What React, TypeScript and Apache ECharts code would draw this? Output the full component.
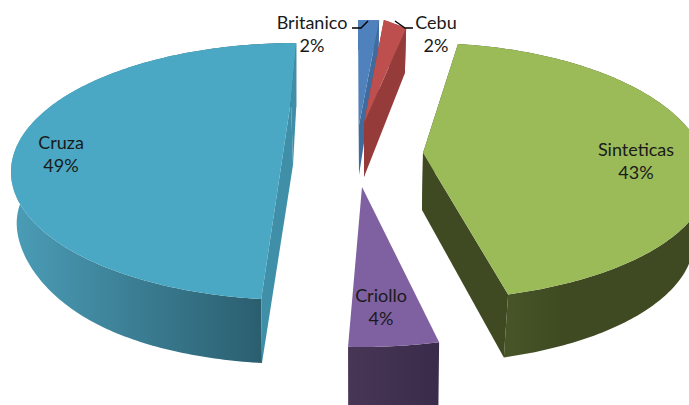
import React, { useEffect, useRef } from "react";
import * as echarts from "echarts";

const categories = ["Britanico", "Cebu", "Sinteticas", "Criollo", "Cruza"];
const shares = [2, 2, 43, 4, 49];
const percentLabels = ["2%", "2%", "43%", "4%", "49%"];

// Projection of each exploded slice (an imitation of the 3-D perspective of the original)
const layouts: any[] = [
  { ax: 359, ay: 125, adx: 0, ad: 50, ox: 358, cy: 150, rx: 285, ryB: 130, ryF: 130, tilt: 0, phi0: 0, scale: 0.59, depth: 30, shrink: 0.97, taper: 0, cuts: true,
    face: "#4f81bd", cut: "#3f6b9e", wall: "#3f6b9e", lx: 312, ly: 22 },
  { ax: 364, ay: 123, adx: 0, ad: 54, ox: 364, cy: 143, rx: 285, ryB: 130, ryF: 130, tilt: 0.33, phi0: 4, scale: 0.625, depth: 45, shrink: 0.97, taper: 0, cuts: true,
    face: "#bd504e", cut: "#953c3a", wall: "#953c3a", lx: 436, ly: 22 },
  { ax: 423, ay: 153, adx: -1, ad: 57, ox: 423, cy: 178, rx: 285, ryB: 135, ryF: 122, tilt: 0, phi0: 7.05, scale: 1.005, depth: 63, shrink: 0.95, taper: 0, cuts: true,
    face: "#9bbb59", cut: "#3f4a22", wall: [[0.22, "#465427"], [0.42, "#3f4a22"], [1, "#3f4a22"]], lx: 636, ly: 149 },
  { ax: 362, ay: 187, adx: 0, ad: 60, ox: 362, cy: 217, rx: 285, ryB: 130, ryF: 130, tilt: 0, phi0: 164.3, scale: 1.285, depth: 68, shrink: 0.99, taper: 0, cuts: false,
    face: "#7f60a0", cut: "#463554", wall: [[0, "#483656"], [1, "#3a2b4b"]], lx: 381, ly: 295 },
  { ax: 291, ay: 100, adx: 2, ad: 65, ox: 296, cy: 172, rx: 285, ryB: 129, ryF: 128, tilt: 0, phi0: 187, scale: 0.981, depth: 64, shrink: 0.98, taper: 0.2, cuts: true,
    face: "#4aa8c4", cut: "#3f8fa8", wall: [[0, "#4b9db7"], [0.87, "#2b5f70"], [1, "#2b5f70"]], lx: 61, ly: 142 },
];

const leaderBritanico = [[352, 28], [361, 28], [368, 21]];
const leaderCebu = [[395, 21], [405, 28], [413, 28]];

const total = shares.reduce((a, b) => a + b, 0);

function arc(l: any, sweep: number, deep: boolean) {
  const pts: number[][] = [];
  const steps = Math.max(4, Math.ceil(sweep * l.scale));
  for (let i = 0; i <= steps; i++) {
    const phi = ((l.phi0 + (sweep * l.scale * i) / steps) * Math.PI) / 180;
    const c = Math.cos(phi);
    const s = Math.sin(phi);
    const dx = l.rx * s;
    const y = l.cy - (c > 0 ? l.ryB : l.ryF) * c + l.tilt * dx;
    const d = l.depth * (1 - l.taper * Math.pow(s, 6));
    pts.push(deep ? [l.ox + dx * l.shrink, y + d] : [l.ox + dx, y]);
  }
  return pts;
}

function wallFill(w: any) {
  if (typeof w === "string") return w;
  return new echarts.graphic.LinearGradient(
    0, 0, 1, 0,
    w.map((s: any) => ({ offset: s[0], color: s[1] }))
  );
}

function renderItem(params: any, api: any) {
  const i = params.dataIndex;
  const l = layouts[i];
  const sweep = (api.value(0) / total) * 360;
  const top = arc(l, sweep, false);
  const bot = arc(l, sweep, true);
  const apex = [l.ax, l.ay];
  const apexLow = [l.ax + l.adx, l.ay + l.ad];
  const poly = (points: number[][], fill: any) => ({
    type: "polygon",
    shape: { points },
    style: { fill, stroke: null },
  });
  const children: any[] = [poly([...top, ...bot.slice().reverse()], wallFill(l.wall))];
  if (l.cuts) {
    children.push(poly([apex, top[top.length - 1], bot[bot.length - 1], apexLow], l.cut));
    children.push(poly([apex, top[0], bot[0], apexLow], l.cut));
  }
  children.push(poly([apex, ...top], l.face));
  return { type: "group", children };
}

function labelElements() {
  const out: any[] = [];
  layouts.forEach((l, i) => {
    [categories[i], percentLabels[i]].forEach((text, k) => {
      out.push({
        type: "text",
        z: 10,
        x: l.lx,
        y: l.ly + k * 22.5,
        style: {
          text,
          fill: "#1a1a1a",
          font: "18px Lato, 'Open Sans', sans-serif",
          align: "center",
          verticalAlign: "middle",
        },
      });
    });
  });
  [leaderBritanico, leaderCebu].forEach((points) => {
    out.push({
      type: "polyline",
      z: 10,
      shape: { points },
      style: { stroke: "#000000", lineWidth: 1.4, fill: null },
    });
  });
  return out;
}

export default function App() {
  const ref = useRef<HTMLDivElement>(null);
  useEffect(() => {
    document.body.style.margin = "0";
    const chart = echarts.init(ref.current!, null, { renderer: "svg" });
    chart.setOption({
      animation: false,
      backgroundColor: "#ffffff",
      series: [
        {
          type: "custom",
          coordinateSystem: "none",
          renderItem,
          silent: true,
          clip: false,
          data: shares.map((v, i) => ({ name: categories[i], value: [v] })),
        },
      ],
      graphic: { elements: labelElements() },
    });
    return () => chart.dispose();
  }, []);
  return <div ref={ref} style={{ width: 689, height: 405, overflow: "hidden" }} />;
}
